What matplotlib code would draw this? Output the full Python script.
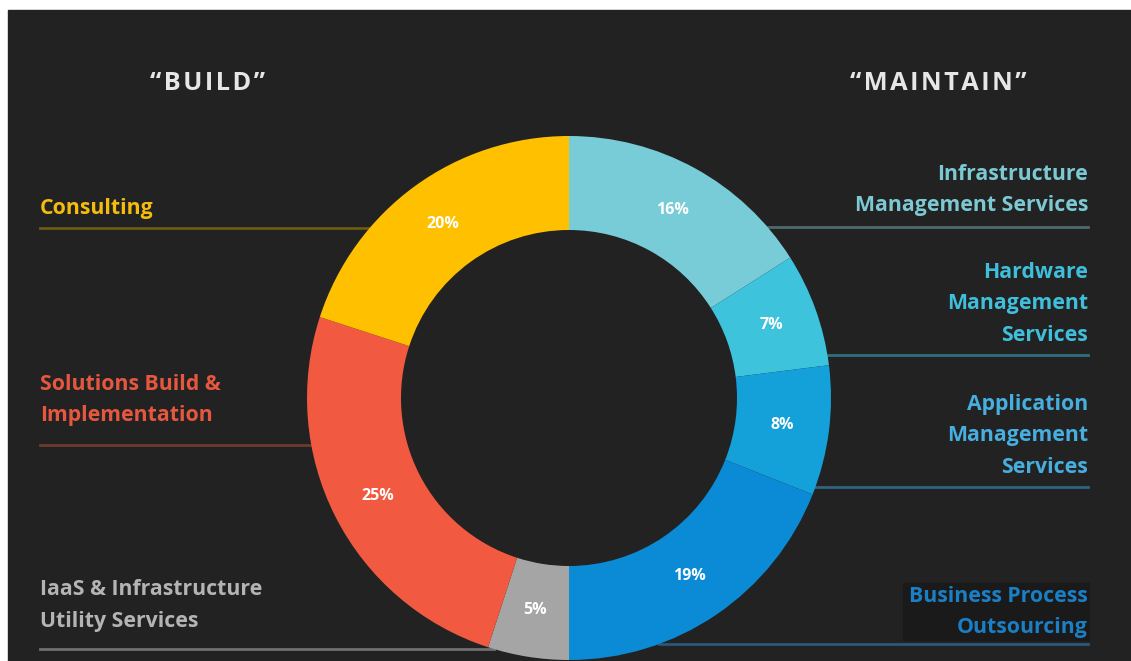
"""Build vs maintain donut chart on a dark slide background."""

import math

import matplotlib

matplotlib.use("Agg")

import matplotlib.pyplot as plt
from matplotlib.patches import Rectangle

plt.rcParams["font.family"] = ["Open Sans", "DejaVu Sans"]

# Data, clockwise from 12 o'clock.
segments = [
    "Infrastructure\nManagement Services",
    "Hardware\nManagement\nServices",
    "Application\nManagement\nServices",
    "Business Process\nOutsourcing",
    "IaaS & Infrastructure\nUtility Services",
    "Solutions Build &\nImplementation",
    "Consulting",
]
shares = [16, 7, 8, 19, 5, 25, 20]
seg_colors = ["#78ccd8", "#3ec3dd", "#14a0d9", "#0b8bd6", "#a5a5a5", "#f15a40", "#ffc000"]
text_colors = ["#7cc9d4", "#3fbfdb", "#47aee0", "#1a7fc4", "#b4b4b4", "#e5573e", "#f4bc0c"]
rule_colors = ["#4b6a70", "#2f6e7e", "#2e6580", "#2b5878", "#707070", "#6c3a2e", "#6a5a14"]
headings = ["\u201cBUILD\u201d", "\u201cMAINTAIN\u201d"]

W, H = 1131, 661
CX, CY, R = 569, 398, 262  # donut centre / radius in image pixels


def Y(y):
    # image rows (top-down) -> axes coordinates (bottom-up)
    return H - y


def ring_x(y, side):
    # where a horizontal rule at image row y meets the outer ring edge
    dy = y - CY
    half = math.sqrt(max(R * R - dy * dy, 0))
    return CX + half if side == "right" else CX - half


fig = plt.figure(figsize=(W / 100, H / 100), dpi=100, facecolor="white")
ax = fig.add_axes([0, 0, 1, 1])
ax.add_patch(Rectangle((8, 0), W - 8, H - 10, color="#222222", zorder=0))

# Label layout: side, right/left x, first baseline, rule y (image rows).
layout = {
    0: ("right", 1088, 180, 227),
    1: ("right", 1088, 278, 355),
    2: ("right", 1088, 410, 487),
    3: ("right", 1088, 602, 644),
    4: ("left", 40, 595, 649),
    5: ("left", 40, 390, 445),
    6: ("left", 40, 214, 228),
}
step = 31.5

# A darker box sits behind the BPO label in the original slide.
ax.add_patch(Rectangle((903, Y(640)), 186, 57, color="#1a1a1a", zorder=1))

for i, name in enumerate(segments):
    side, x, base, rule = layout[i]
    ax.plot([ring_x(rule, side), x], [Y(rule), Y(rule)], color=rule_colors[i],
            lw=2, zorder=1)
    for j, line in enumerate(name.split("\n")):
        ax.text(x, Y(base + j * step), line, ha=side, va="baseline",
                fontsize=15.3, fontweight="bold", color=text_colors[i], zorder=3)

thin = "\u200a"
ax.text(208, Y(90), thin.join(headings[0]), ha="center", va="baseline",
        fontsize=18.3, fontweight="bold", color="#e6e6e6")
ax.text(938, Y(90), thin.join(headings[1]), ha="center", va="baseline",
        fontsize=18.3, fontweight="bold", color="#e6e6e6")

wedges, _, pcts = ax.pie(
    shares,
    colors=seg_colors,
    startangle=90,
    counterclock=False,
    center=(CX, Y(CY)),
    radius=R,
    autopct=lambda p: f"{p:.0f}%",
    pctdistance=0.82,
    wedgeprops=dict(width=94, linewidth=0),
    textprops=dict(color="white", fontsize=11.5, fontweight="bold"),
)
for w in wedges:
    w.set_zorder(2)
for t in pcts:
    t.set_zorder(4)

ax.set_aspect("auto")
ax.set_xlim(0, W)
ax.set_ylim(0, H)
ax.axis("off")

fig.savefig("out.png", dpi=100, facecolor="white")
